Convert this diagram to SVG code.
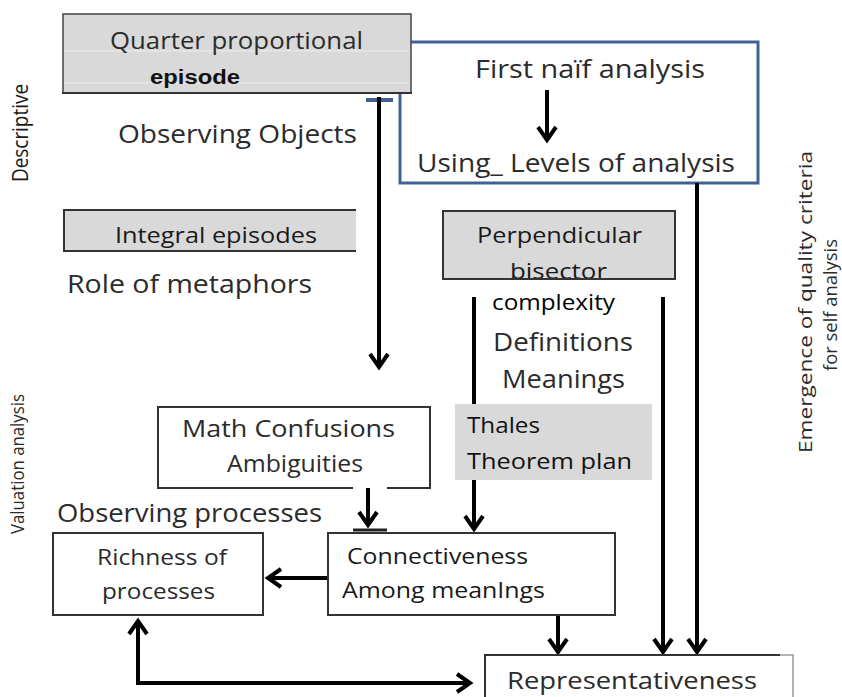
<svg xmlns="http://www.w3.org/2000/svg" width="842" height="697" viewBox="0 0 842 697">
<defs>
<style>
.t{font-family:"Open Sans","Liberation Sans",sans-serif;fill:#2b2b2b}
.b{font-family:"Liberation Sans",Arial,sans-serif;fill:#111}
.gray{fill:#d9d9d9}
.box{fill:#fff;stroke:#333;stroke-width:2}
.bd{fill:none;stroke:#333;stroke-width:2}
.c{fill:none;stroke:#000;stroke-width:4}
</style>
<marker id="ah" viewBox="-16 -12 20 24" refX="0" refY="0" markerWidth="20" markerHeight="24" markerUnits="userSpaceOnUse" orient="auto-start-reverse">
<path d="M-13,-9 L0,0 L-13,9" fill="none" stroke="#000" stroke-width="4"/>
</marker>
</defs>
<rect width="842" height="697" fill="#fff"/>

<g id="first-analysis">
<rect x="400" y="42" width="358" height="141" fill="#fff" stroke="#3f6296" stroke-width="3"/>
<text class="t" x="475" y="78" font-size="25" textLength="230" lengthAdjust="spacingAndGlyphs">First  naïf analysis</text>
<text class="t" x="417" y="172" font-size="25" textLength="318" lengthAdjust="spacingAndGlyphs">Using_  Levels of analysis</text>
</g>

<g id="quarter-proportional">
<rect class="gray" x="63" y="14" width="348" height="79" stroke="#444" stroke-width="1.5"/>
<line x1="64" y1="51" x2="410" y2="51" stroke="#ececec" stroke-width="1"/>
<line x1="64" y1="83" x2="410" y2="83" stroke="#ececec" stroke-width="1"/>
<line x1="62" y1="93" x2="412" y2="93" stroke="#333" stroke-width="2"/>
<text class="t" x="110" y="49" font-size="24" textLength="253" lengthAdjust="spacingAndGlyphs">Quarter  proportional</text>
<text class="b" x="150" y="84" font-size="20" font-weight="bold" textLength="90" lengthAdjust="spacingAndGlyphs">episode</text>
<rect x="366" y="98" width="27" height="4" fill="#3f6296"/>
</g>

<g id="observing-objects">
<text class="t" x="118" y="143" font-size="25" textLength="239" lengthAdjust="spacingAndGlyphs">Observing  Objects</text>
</g>

<g id="integral-episodes">
<rect class="gray" x="64" y="210" width="292" height="41"/>
<path class="bd" d="M356,210 H64 V251 H356"/>
<text class="t" x="115" y="243" font-size="22" textLength="202" lengthAdjust="spacingAndGlyphs" style="fill:#1a1a1a">Integral  episodes</text>
</g>

<g id="role-metaphors">
<text class="t" x="67" y="293" font-size="25" textLength="245" lengthAdjust="spacingAndGlyphs">Role  of metaphors</text>
</g>

<g id="perpendicular-bisector">
<rect class="gray" x="443" y="211" width="232" height="68" stroke="#333" stroke-width="2"/>
<text class="t" x="477" y="243" font-size="22" textLength="165" lengthAdjust="spacingAndGlyphs" style="fill:#1a1a1a">Perpendicular</text>
<text class="t" x="510" y="279" font-size="22" textLength="97" lengthAdjust="spacingAndGlyphs" style="fill:#1a1a1a">bisector</text>
<line x1="443" y1="279" x2="675" y2="279" stroke="#333" stroke-width="2"/>
</g>

<g id="connectors">
<line class="c" x1="379" y1="97" x2="379" y2="367" marker-end="url(#ah)"/>
<line class="c" x1="547" y1="90" x2="547" y2="140" marker-end="url(#ah)"/>
<line class="c" x1="474" y1="297" x2="474" y2="529" marker-end="url(#ah)"/>
<line class="c" x1="663" y1="297" x2="663" y2="652" marker-end="url(#ah)"/>
<line class="c" x1="697" y1="183" x2="697" y2="652" marker-end="url(#ah)"/>
<line class="c" x1="368" y1="478" x2="368" y2="525" marker-end="url(#ah)"/>
<line class="c" x1="327" y1="578" x2="268" y2="578" marker-end="url(#ah)"/>
<line class="c" x1="558" y1="615" x2="558" y2="652" marker-end="url(#ah)"/>
<path class="c" d="M138,621 V683 H470" marker-start="url(#ah)" marker-end="url(#ah)"/>
</g>

<g id="definitions">
<text class="t" x="492" y="310" font-size="21" textLength="123" lengthAdjust="spacingAndGlyphs" style="fill:#000">complexity</text>
<text class="t" x="493" y="351" font-size="26" textLength="140" lengthAdjust="spacingAndGlyphs">Definitions</text>
<text class="t" x="502" y="388" font-size="26" textLength="123" lengthAdjust="spacingAndGlyphs">Meanings</text>
</g>

<g id="thales">
<rect class="gray" x="455" y="404" width="197" height="76"/>
<text class="t" x="467" y="433" font-size="21" textLength="73" lengthAdjust="spacingAndGlyphs" style="fill:#111">Thales</text>
<text class="t" x="467" y="469" font-size="21" textLength="165" lengthAdjust="spacingAndGlyphs" style="fill:#111">Theorem  plan</text>
</g>

<g id="math-confusions">
<rect x="158" y="407" width="272" height="81" fill="#fff"/>
<path class="bd" d="M353,488 H158 V407 H430 V488 H387"/>
<text class="t" x="182" y="437" font-size="24" textLength="213" lengthAdjust="spacingAndGlyphs">Math  Confusions</text>
<text class="t" x="227" y="472" font-size="24" textLength="136" lengthAdjust="spacingAndGlyphs">Ambiguities</text>
</g>

<g id="observing-processes">
<text class="t" x="57" y="522" font-size="25" textLength="265" lengthAdjust="spacingAndGlyphs">Observing processes</text>
</g>

<g id="richness">
<rect class="box" x="53" y="533" width="210" height="82"/>
<text class="t" x="97" y="565" font-size="22" textLength="130" lengthAdjust="spacingAndGlyphs">Richness of</text>
<text class="t" x="102" y="599" font-size="22" textLength="113" lengthAdjust="spacingAndGlyphs">processes</text>
</g>

<g id="connectiveness">
<rect class="box" x="328" y="533" width="287" height="82"/>
<line x1="353" y1="530" x2="387" y2="530" stroke="#222" stroke-width="3"/>
<text class="t" x="347" y="564" font-size="22" textLength="181" lengthAdjust="spacingAndGlyphs" style="fill:#1a1a1a">Connectiveness</text>
<text class="t" x="342" y="598" font-size="22" textLength="203" lengthAdjust="spacingAndGlyphs" style="fill:#1a1a1a">Among meanIngs</text>
</g>

<g id="representativeness">
<path class="bd" d="M485,700 V655 H780"/>
<path d="M780,655 H793 V700" fill="none" stroke="#999" stroke-width="1.5"/>
<text class="t" x="507" y="689" font-size="24" textLength="250" lengthAdjust="spacingAndGlyphs">Representativeness</text>
</g>

<g id="axis-labels">
<text class="t" transform="translate(28,133) rotate(-90)" text-anchor="middle" font-size="22" textLength="98" lengthAdjust="spacingAndGlyphs" style="fill:#1a1a1a">Descriptive</text>
<text class="t" transform="translate(24,464) rotate(-90)" text-anchor="middle" font-size="18" textLength="140" lengthAdjust="spacingAndGlyphs">Valuation  analysis</text>
<text class="t" transform="translate(812,302) rotate(-90)" text-anchor="middle" font-size="18" textLength="302" lengthAdjust="spacingAndGlyphs">Emergence  of quality  criteria</text>
<text class="t" transform="translate(837,305) rotate(-90)" text-anchor="middle" font-size="18" textLength="132" lengthAdjust="spacingAndGlyphs">for self analysis</text>
</g>
</svg>
